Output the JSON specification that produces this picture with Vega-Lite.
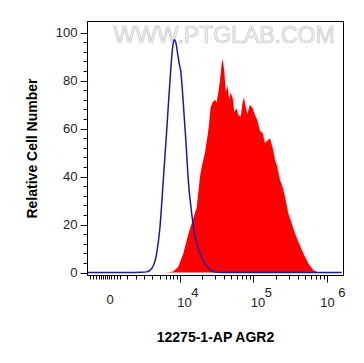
{
  "$schema": "https://vega.github.io/schema/vega-lite/v6.json",
  "width": 256,
  "height": 254,
  "autosize": {"type": "none"},
  "padding": {"left": 87, "top": 21, "right": 21, "bottom": 88},
  "background": "white",
  "config": {
    "view": {"stroke": "black", "strokeWidth": 1},
    "axis": {"grid": false, "domainColor": "black", "tickColor": "black", "labelFont": "Liberation Sans", "labelFontSize": 13, "labelColor": "#222", "titleFont": "Liberation Sans", "titleFontSize": 14, "titleFontWeight": "bold", "titleColor": "black", "labelOverlap": false, "labelFlush": false}
  },
  "datasets": {
    "ctrl": [
      {"d": 2.748, "v": 0}, {"d": 3.32, "v": 0}, {"d": 3.456, "v": 0.1}, {"d": 3.547, "v": 0.3},
      {"d": 3.615, "v": 1.7}, {"d": 3.683, "v": 8}, {"d": 3.728, "v": 19}, {"d": 3.773, "v": 38.5},
      {"d": 3.819, "v": 59}, {"d": 3.864, "v": 80}, {"d": 3.901, "v": 94}, {"d": 3.922, "v": 97},
      {"d": 3.946, "v": 95.5}, {"d": 3.969, "v": 91}, {"d": 3.99, "v": 87}, {"d": 4.01, "v": 84},
      {"d": 4.045, "v": 70.6}, {"d": 4.082, "v": 54}, {"d": 4.113, "v": 38.5}, {"d": 4.159, "v": 24.7},
      {"d": 4.204, "v": 15}, {"d": 4.272, "v": 8}, {"d": 4.34, "v": 3.8}, {"d": 4.453, "v": 0.3},
      {"d": 4.589, "v": 0}, {"d": 6.2, "v": 0}
    ],
    "sample": [
      {"d": 2.748, "v": 0}, {"d": 3.728, "v": 0}, {"d": 3.819, "v": 0}, {"d": 3.909, "v": 0.5},
      {"d": 3.977, "v": 2.4}, {"d": 4.045, "v": 8}, {"d": 4.113, "v": 16}, {"d": 4.181, "v": 22.6},
      {"d": 4.227, "v": 27}, {"d": 4.272, "v": 40}, {"d": 4.295, "v": 44}, {"d": 4.34, "v": 50},
      {"d": 4.385, "v": 59}, {"d": 4.418, "v": 69}, {"d": 4.445, "v": 71}, {"d": 4.476, "v": 72},
      {"d": 4.499, "v": 71}, {"d": 4.521, "v": 75}, {"d": 4.544, "v": 80}, {"d": 4.567, "v": 87},
      {"d": 4.581, "v": 89}, {"d": 4.603, "v": 84}, {"d": 4.622, "v": 75}, {"d": 4.644, "v": 78},
      {"d": 4.671, "v": 72}, {"d": 4.69, "v": 75}, {"d": 4.717, "v": 72.6}, {"d": 4.739, "v": 67},
      {"d": 4.771, "v": 68.4}, {"d": 4.793, "v": 65.6}, {"d": 4.826, "v": 65}, {"d": 4.853, "v": 71},
      {"d": 4.871, "v": 73}, {"d": 4.894, "v": 69}, {"d": 4.916, "v": 66}, {"d": 4.952, "v": 70},
      {"d": 4.989, "v": 68.4}, {"d": 5.02, "v": 65.6}, {"d": 5.052, "v": 63.5}, {"d": 5.088, "v": 59},
      {"d": 5.125, "v": 58}, {"d": 5.156, "v": 54}, {"d": 5.193, "v": 55}, {"d": 5.224, "v": 56},
      {"d": 5.261, "v": 52}, {"d": 5.293, "v": 47}, {"d": 5.324, "v": 44}, {"d": 5.361, "v": 38.5},
      {"d": 5.397, "v": 35.7}, {"d": 5.429, "v": 31.6}, {"d": 5.473, "v": 24.7}, {"d": 5.52, "v": 20.5},
      {"d": 5.565, "v": 16.3}, {"d": 5.61, "v": 12.8}, {"d": 5.678, "v": 8}, {"d": 5.746, "v": 3.8},
      {"d": 5.814, "v": 1}, {"d": 5.882, "v": 0}, {"d": 6.2, "v": 0}
    ],
    "wm": [{"t": "WWW.PTGLAB.COM", "d": 4.6, "v": 98.5}],
    "exps": [{"d": 4, "e": "4", "v": -8.5}, {"d": 5, "e": "5", "v": -8.5}, {"d": 6, "e": "6", "v": -8.5}]
  },
  "encoding": {
    "x": {
      "field": "d", "type": "quantitative",
      "scale": {"domain": [2.735, 6.218], "nice": false, "zero": false},
      "axis": {
        "title": "12275-1-AP AGR2",
        "titlePadding": 21,
        "values": [2.776, 2.816, 2.857, 2.898, 2.925, 2.952, 2.98, 3.007, 3.041, 3.061, 3.102, 3.143, 3.184, 3.279, 3.401, 3.51, 3.619, 3.728, 3.81, 3.864, 3.905, 3.959, 4, 4.301, 4.477, 4.602, 4.699, 4.778, 4.845, 4.903, 4.954, 5, 5.301, 5.477, 5.602, 5.699, 5.778, 5.845, 5.903, 5.954, 6],
        "tickSize": {"condition": {"test": "indexof([4,5,6], datum.value) >= 0", "value": 7}, "value": 4},
        "labelExpr": "indexof([4,5,6], datum.value) >= 0 ? '10' : (abs(datum.value - 3.041) < 0.0005 ? '0' : '')",
        "labelAlign": "center",
        "labelOffset": {"condition": {"test": "datum.value >= 4 && datum.value < 5.5", "value": 4}, "value": 0},
        "labelPadding": 14
      }
    },
    "y": {
      "field": "v", "type": "quantitative",
      "scale": {"domain": [-1, 104.8], "nice": false, "zero": false},
      "axis": {
        "title": "Relative Cell Number",
        "titlePadding": 16,
        "values": [0, 4, 8, 12, 16, 20, 24, 28, 32, 36, 40, 44, 48, 52, 56, 60, 64, 68, 72, 76, 80, 84, 88, 92, 96, 100],
        "tickSize": {"condition": {"test": "datum.value % 20 == 0", "value": 7}, "value": 4},
        "labelExpr": "datum.value % 20 == 0 ? datum.label : ''",
        "labelPadding": 3
      }
    }
  },
  "layer": [
    {
      "data": {"name": "wm"},
      "mark": {"type": "text", "font": "Liberation Sans", "fontSize": 23, "fill": "#f4f4f4", "stroke": "#c6c6c6", "strokeWidth": 0.7, "align": "center", "baseline": "middle"},
      "encoding": {
        "text": {"field": "t", "type": "nominal"}
      }
    },
    {
      "data": {"name": "sample"},
      "mark": {"type": "area", "color": "#ff0000", "opacity": 1}
    },
    {
      "data": {"name": "ctrl"},
      "mark": {"type": "line", "color": "#1a1aa6", "strokeWidth": 1.5, "interpolate": "monotone"}
    },
    {
      "data": {"name": "exps"},
      "mark": {"type": "text", "font": "Liberation Sans", "fontSize": 13, "color": "#222", "align": "center", "baseline": "middle", "dx": 15},
      "encoding": {
        "text": {"field": "e", "type": "nominal"}
      }
    }
  ]
}
